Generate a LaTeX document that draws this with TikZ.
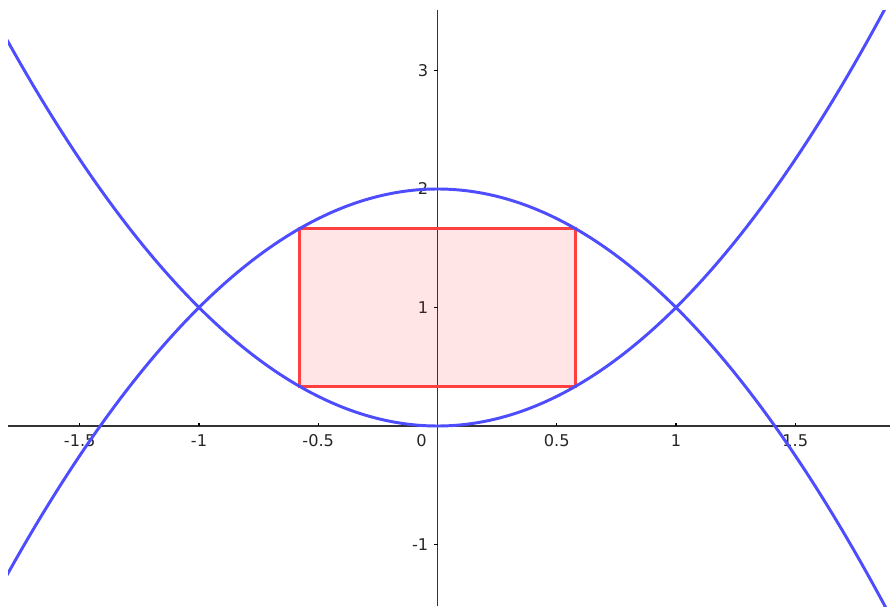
\documentclass[tikz,border=0pt]{standalone}
\usepackage{fontspec}
\setmainfont{DejaVu Sans}
\definecolor{curveblue}{RGB}{77,77,255}
\definecolor{rectred}{RGB}{255,64,64}

\begin{document}
\begin{tikzpicture}[x=5.9625cm,y=2.9625cm,
  axis/.style={draw=black!80,line width=1.1pt},
  tick/.style={draw=black,line width=0.8pt},
  lbl/.style={font=\fontsize{11.5}{13}\selectfont,text=black!85,inner sep=0pt},
  curve/.style={draw=curveblue,line width=2.1pt},
  region/.style={draw=rectred,line width=2.1pt,fill=red,fill opacity=0.1,draw opacity=1}]
\useasboundingbox (-1.8344,-1.519) rectangle (1.8973,3.5949);
% axes
\draw[axis] (-1.8008,0) -- (1.8973,0);
\draw[axis] (0,-1.519) -- (0,3.5105);
\foreach \x in {-1.5,-1,-0.5,0.5,1,1.5}{
  \draw[tick] (\x,0) -- ++(0,0.075cm);
  \node[lbl] (x\x) at ([yshift=-0.375cm]\x,0) {\x};
}
\node[lbl] (x0) at ([xshift=-0.4cm,yshift=-0.375cm]0,0) {0};
\foreach \y in {-1,1,2,3}{
  \draw[tick] (0,\y) -- ++(-0.1cm,0);
  \node[lbl,anchor=east] (y\y) at ([xshift=-0.225cm]0,\y) {\y};
}
% inscribed rectangle
\draw[region] ({-1/sqrt(3)},1/3) rectangle ({1/sqrt(3)},5/3);
% parabolas
\begin{scope}
\clip (-1.8008,-1.519) rectangle (1.8973,3.5105);
\draw[curve] plot[domain=-1.85:1.9,samples=120,smooth] (\x,{\x*\x});
\draw[curve] plot[domain=-1.85:1.9,samples=120,smooth] (\x,{2-\x*\x});
\end{scope}
\end{tikzpicture}
\end{document}
